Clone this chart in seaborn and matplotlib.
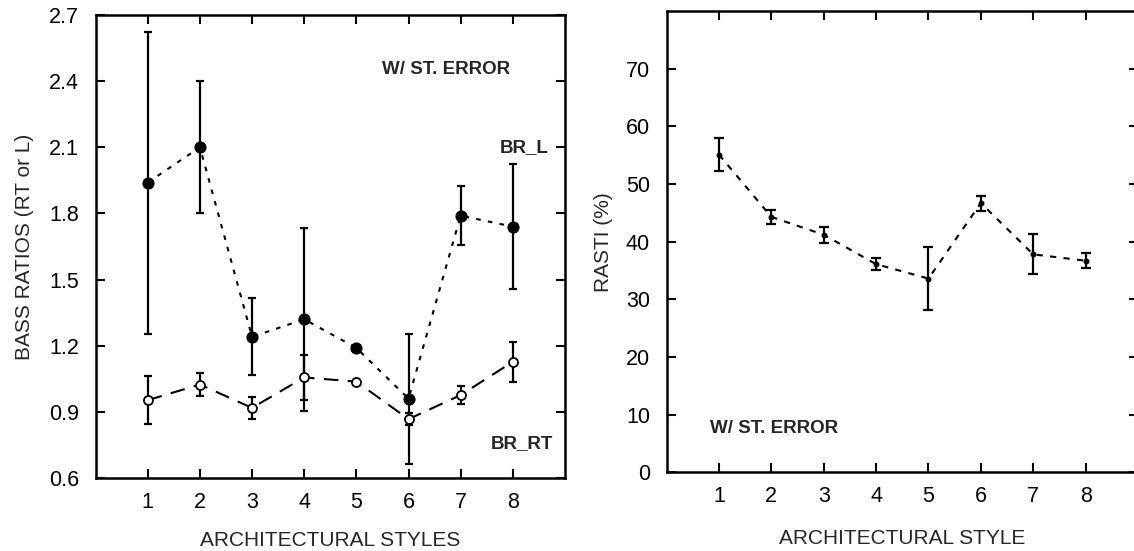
import numpy as np
import pandas as pd
import seaborn as sns
import matplotlib.pyplot as plt

# werte
styles = [1, 2, 3, 4, 5, 6, 7, 8]
br_l = [1.94, 2.10, 1.24, 1.32, 1.19, 0.96, 1.79, 1.74]
br_l_se = [0.685, 0.30, 0.175, 0.415, 0.0, 0.295, 0.135, 0.285]
br_rt = [0.953, 1.024, 0.918, 1.056, 1.037, 0.867, 0.976, 1.127]
br_rt_se = [0.11, 0.05, 0.05, 0.10, 0.0, 0.027, 0.04, 0.09]
rasti = [55.1, 44.3, 41.2, 36.1, 33.6, 46.7, 37.8, 36.7]
rasti_se = [2.8, 1.15, 1.4, 1.05, 5.45, 1.3, 3.45, 1.25]

left_yticks = [0.6, 0.9, 1.2, 1.5, 1.8, 2.1, 2.4, 2.7]
right_yticks = [0, 10, 20, 30, 40, 50, 60, 70]

sns.set_style("ticks")
plt.rcParams['font.family'] = ['Liberation Sans', 'DejaVu Sans']

df = pd.DataFrame({"style": styles, "br_l": br_l, "br_l_se": br_l_se,
                   "br_rt": br_rt, "br_rt_se": br_rt_se,
                   "rasti": rasti, "rasti_se": rasti_se})

fig = plt.figure(figsize=(11.34, 5.51), dpi=100)
ax1 = fig.add_axes([0.0843, 0.1325, 0.4139, 0.8403])
ax2 = fig.add_axes([0.5878, 0.1428, 0.4157, 0.8372])


def draw_err(ax, x, y, se, cap, lw):
    m = np.array(se) > 0
    ax.errorbar(np.array(x)[m], np.array(y)[m], yerr=np.array(se)[m], fmt="none",
                ecolor="black", elinewidth=lw, capsize=cap, capthick=lw, zorder=3)


# linkes bild: bass ratios
sns.lineplot(data=df, x="style", y="br_l", ax=ax1, color="black", lw=1.5,
             linestyle=(0, (2.2, 3.5)), marker="o", markersize=8,
             markerfacecolor="black", markeredgecolor="black", zorder=4)
sns.lineplot(data=df, x="style", y="br_rt", ax=ax1, color="black", lw=1.5,
             linestyle=(0, (7, 4.5)), marker="o", markersize=6.5,
             markerfacecolor="white", markeredgecolor="black", markeredgewidth=1.3, zorder=4)
draw_err(ax1, styles, br_l, br_l_se, 3, 1.6)
draw_err(ax1, styles, br_rt, br_rt_se, 3, 1.6)

ax1.set_xlim(0, 9)
ax1.set_ylim(0.6, 2.7)
ax1.set_xticks(styles)
ax1.set_yticks(left_yticks)
ax1.set_yticklabels(["%.1f" % v for v in left_yticks])
ax1.set_xlabel("ARCHITECTURAL STYLES", fontsize=15, labelpad=13)
ax1.set_ylabel("BASS RATIOS (RT or L)", fontsize=15, labelpad=11)
ax1.text(0.746, 0.883, "W/ ST. ERROR", transform=ax1.transAxes, ha="center", va="center",
         fontsize=13.5, fontweight="bold")
ax1.text(0.966, 0.713, "BR_L", transform=ax1.transAxes, ha="right", va="center",
         fontsize=13.5, fontweight="bold")
ax1.text(0.974, 0.075, "BR_RT", transform=ax1.transAxes, ha="right", va="center",
         fontsize=13.5, fontweight="bold")

# rechtes bild: rasti
sns.lineplot(data=df, x="style", y="rasti", ax=ax2, color="black", lw=1.5,
             linestyle=(0, (3, 3.5)), marker="o", markersize=3.5,
             markerfacecolor="black", markeredgecolor="black", zorder=4)
draw_err(ax2, styles, rasti, rasti_se, 3.3, 1.6)

ax2.set_xlim(0, 9)
ax2.set_ylim(0, 80)
ax2.set_xticks(styles)
ax2.set_yticks(right_yticks)
ax2.set_xlabel("ARCHITECTURAL STYLE", fontsize=15, labelpad=15.5)
ax2.set_ylabel("RASTI (%)", fontsize=15, labelpad=9)
ax2.text(0.092, 0.096, "W/ ST. ERROR", transform=ax2.transAxes, ha="left", va="center",
         fontsize=13.5, fontweight="bold")

for ax in (ax1, ax2):
    ax.tick_params(direction="in", length=6.5, width=1.5, top=True, right=True,
                   labelsize=15.5, color="black", labelcolor="black")
    ax.tick_params(axis="x", pad=10)
    ax.tick_params(axis="y", pad=12)
    for s in ax.spines.values():
        s.set_linewidth(1.8)
        s.set_color("black")

fig.savefig("out.png", dpi=100)
